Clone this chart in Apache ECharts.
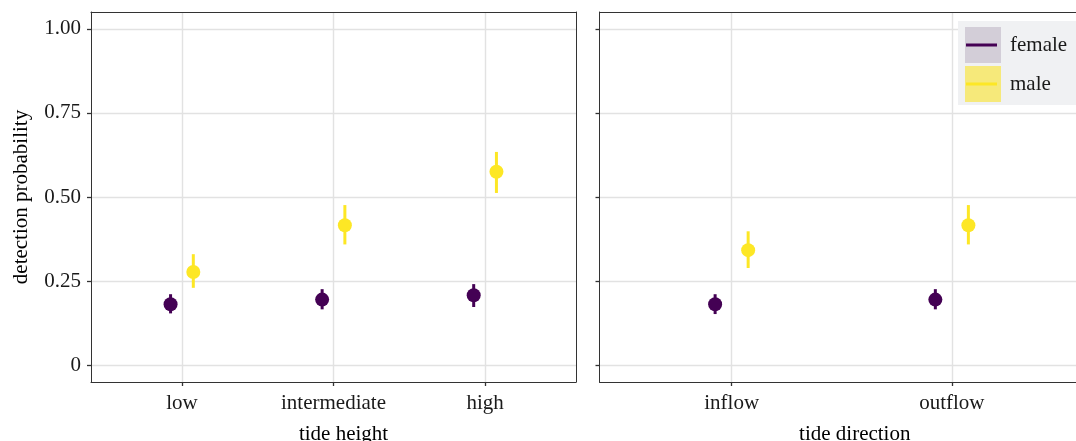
<!DOCTYPE html>
<html>
<head>
<meta charset="utf-8">
<script src="https://cdn.jsdelivr.net/npm/echarts@6/dist/echarts.min.js"></script>
<style>
html,body{margin:0;padding:0;background:#fff;}
#c{width:1076px;height:441px;}
</style>
</head>
<body>
<div id="c"></div>
<script>
// ---- data ----
var heightCats = ['low', 'intermediate', 'high'];
var dirCats = ['inflow', 'outflow'];
var yTicks = [0, 0.25, 0.5, 0.75, 1];

var femaleHeight = [0.181, 0.195, 0.208];
var femaleHeightLo = [0.154, 0.166, 0.173];
var femaleHeightHi = [0.211, 0.226, 0.241];
var maleHeight = [0.277, 0.416, 0.575];
var maleHeightLo = [0.230, 0.359, 0.512];
var maleHeightHi = [0.330, 0.476, 0.634];

var femaleDir = [0.181, 0.195];
var femaleDirLo = [0.152, 0.166];
var femaleDirHi = [0.211, 0.226];
var maleDir = [0.342, 0.416];
var maleDirLo = [0.289, 0.359];
var maleDirHi = [0.398, 0.476];

// ---- style ----
var FEMALE = '#440154', MALE = '#FDE725';
var FONT = 'Liberation Serif';
var TXT = '#1a1a1a';
var FS = 21;
var DODGE = 0.075;
var BORDER = { color: '#333', width: 1 };

function pts(vals, off) { return vals.map(function (v, i) { return [i + 1 + off, v]; }); }
function bars(lo, hi, off) { return lo.map(function (v, i) { return [i + 1 + off, v, hi[i]]; }); }

function errRender(color) {
  return function (params, api) {
    var a = api.coord([api.value(0), api.value(1)]);
    var b = api.coord([api.value(0), api.value(2)]);
    return { type: 'line', shape: { x1: a[0], y1: a[1], x2: b[0], y2: b[1] },
      style: { stroke: color, lineWidth: 3 } };
  };
}

function xAxis(gi, cats, max, name, namePad) {
  var custom = cats.map(function (c, i) { return i + 1; });
  return {
    type: 'value', gridIndex: gi, min: 0.4, max: max, position: 'bottom',
    name: name, nameLocation: 'middle', nameGap: 42,
    nameTextStyle: { fontFamily: FONT, fontSize: FS, color: '#000', padding: namePad },
    axisLine: { show: true, onZero: false, lineStyle: BORDER },
    axisTick: { show: true, length: 4, customValues: custom, lineStyle: { color: '#333', width: 1.3 } },
    axisLabel: { customValues: custom, margin: 11, fontFamily: FONT, fontSize: FS, color: TXT,
      formatter: function (v) { return cats[Math.round(v) - 1]; } },
    splitLine: { show: true, lineStyle: { color: '#e2e2e2', width: 1.4 } }
  };
}
function topAxis(gi, max) {
  return { type: 'value', gridIndex: gi, position: 'top', min: 0.4, max: max,
    axisLine: { show: true, onZero: false, lineStyle: BORDER },
    axisTick: { show: false }, axisLabel: { show: false }, splitLine: { show: false } };
}
function yAxis(gi, showLabel, name) {
  return {
    type: 'value', gridIndex: gi, min: -0.05, max: 1.05, position: 'left',
    name: name, nameLocation: 'middle', nameGap: 59,
    nameTextStyle: { fontFamily: FONT, fontSize: FS, color: '#000' },
    axisLine: { show: true, onZero: false, lineStyle: BORDER },
    axisTick: { show: true, length: 4, customValues: yTicks, lineStyle: { color: '#333', width: 1.3 } },
    axisLabel: { show: showLabel, customValues: yTicks, margin: 10, fontFamily: FONT, fontSize: FS, color: TXT,
      formatter: function (v) { return v === 0 ? '0' : v.toFixed(2); } },
    splitLine: { show: true, lineStyle: { color: '#e2e2e2', width: 1.4 } }
  };
}
function rightAxis(gi) {
  return { type: 'value', gridIndex: gi, position: 'right', min: -0.05, max: 1.05,
    axisLine: { show: true, onZero: false, lineStyle: BORDER },
    axisTick: { show: false }, axisLabel: { show: false }, splitLine: { show: false } };
}

var series = [];
function addGroup(gi, name, color, vals, lo, hi, off) {
  series.push({ type: 'custom', name: name, xAxisIndex: gi, yAxisIndex: gi, z: 3,
    renderItem: errRender(color), data: bars(lo, hi, off), itemStyle: { color: color } });
  series.push({ type: 'scatter', name: name, xAxisIndex: gi, yAxisIndex: gi, z: 4,
    symbol: 'circle', symbolSize: 14, itemStyle: { color: color, opacity: 1 },
    data: pts(vals, off) });
}
addGroup(0, 'female', FEMALE, femaleHeight, femaleHeightLo, femaleHeightHi, -DODGE);
addGroup(0, 'male', MALE, maleHeight, maleHeightLo, maleHeightHi, DODGE);
addGroup(1, 'female', FEMALE, femaleDir, femaleDirLo, femaleDirHi, -DODGE);
addGroup(1, 'male', MALE, maleDir, maleDirLo, maleDirHi, DODGE);

var chart = echarts.init(document.getElementById('c'), null, { renderer: 'canvas' });
chart.setOption({
  backgroundColor: '#fff',
  animation: false,
  grid: [
    { left: 91, top: 12, width: 485, height: 370, outerBoundsMode: 'none', containLabel: false, show: false },
    { left: 599.5, top: 12, width: 484.5, height: 370, outerBoundsMode: 'none', containLabel: false, show: false }
  ],
  xAxis: [
    xAxis(0, heightCats, 3.6, 'tide height', [0, 0, 0, 20]),
    xAxis(1, dirCats, 2.6, 'tide direction', [0, 0, 0, 26]),
    topAxis(0, 3.6),
    topAxis(1, 2.6)
  ],
  yAxis: [
    yAxis(0, true, 'detection probability'),
    yAxis(1, false, ''),
    rightAxis(0)
  ],
  legend: {
    orient: 'vertical', left: 966, top: 27, padding: 0, z: 10,
    itemWidth: 31, itemHeight: 3, itemGap: 3,
    data: [{ name: 'female', icon: 'rect' }, { name: 'male', icon: 'rect' }],
    textStyle: { fontFamily: FONT, fontSize: FS, color: TXT, lineHeight: 36, padding: [0, 0, 0, 8] }
  },
  graphic: [
    { type: 'rect', z: 5, shape: { x: 958, y: 21, width: 120, height: 84 }, style: { fill: '#f0f1f3' } },
    { type: 'rect', z: 6, shape: { x: 965, y: 27, width: 36, height: 36 }, style: { fill: '#d3ced8' } },
    { type: 'rect', z: 6, shape: { x: 965, y: 66, width: 36, height: 36 }, style: { fill: '#f6e97a' } }
  ],
  series: series
});
</script>
</body>
</html>
